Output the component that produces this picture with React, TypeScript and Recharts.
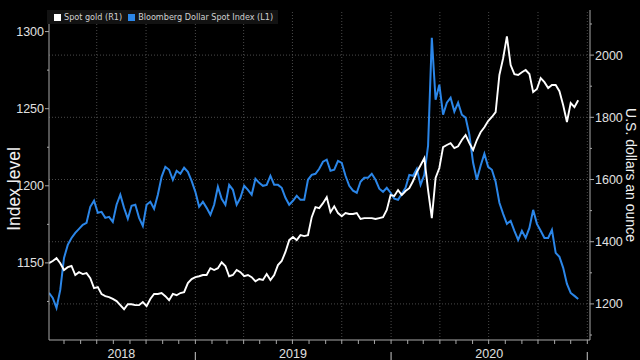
import { LineChart, Line, XAxis, YAxis, ReferenceLine, Legend } from "recharts";

const BLUE = "#2b86e8";
const WEEK = 7 * 24 * 3600 * 1000;
const START = Date.UTC(2018, 3, 3);
const END = Date.UTC(2021, 0, 6);

// weekly closes, Apr 2018 -> Dec 2020
const dollarIndex = [
  1130.5, 1127.3, 1120.8, 1132.5, 1153.2, 1161.7, 1166.2, 1169.5, 1172.1, 1174.7,
  1176.0, 1186.4, 1190.3, 1182.5, 1183.1, 1179.2, 1179.9, 1176.6, 1187.7, 1194.2,
  1185.7, 1178.6, 1187.0, 1187.7, 1179.2, 1174.0, 1187.7, 1189.6, 1185.1, 1194.2,
  1205.8, 1212.3, 1210.4, 1203.9, 1209.7, 1207.8, 1211.7, 1209.1, 1203.2, 1196.1,
  1186.4, 1189.6, 1185.7, 1181.2, 1187.7, 1199.4, 1191.6, 1187.7, 1200.6, 1197.4,
  1187.7, 1192.2, 1200.0, 1197.4, 1194.2, 1204.5, 1201.9, 1200.0, 1200.6, 1206.5,
  1200.6, 1200.6, 1198.7, 1192.2, 1187.7, 1190.3, 1193.5, 1190.9, 1190.9, 1203.9,
  1207.1, 1207.8, 1211.0, 1215.6, 1216.9, 1209.7, 1210.4, 1216.2, 1214.9, 1206.5,
  1200.0, 1196.8, 1195.5, 1202.6, 1205.2, 1205.2, 1207.8, 1203.9, 1198.1, 1196.1,
  1198.7, 1195.5, 1191.6, 1190.9, 1194.8, 1198.7, 1207.1, 1206.5, 1211.0, 1200.6,
  1207.1, 1226.0, 1296.0, 1255.8, 1265.6, 1246.1, 1253.9, 1257.1, 1248.1, 1253.9,
  1246.1, 1244.2, 1233.1, 1214.9, 1203.9, 1213.0, 1220.8, 1212.3, 1210.4, 1202.6,
  1189.0, 1181.8, 1175.3, 1177.3, 1170.8, 1164.9, 1170.8, 1166.2, 1172.7, 1184.4,
  1175.3, 1170.8, 1166.2, 1166.2, 1171.4, 1156.5, 1153.9, 1146.8, 1136.4, 1130.5,
  1128.6, 1126.6,
];

const spotGold = [
  1331, 1338, 1347, 1331, 1309, 1318, 1322, 1293, 1302, 1296,
  1299, 1283, 1251, 1254, 1232, 1225, 1222, 1216, 1209, 1196,
  1183, 1199, 1199, 1196, 1196, 1206, 1193, 1216, 1232, 1232,
  1235, 1225, 1212, 1232, 1228, 1235, 1238, 1267, 1280, 1286,
  1289, 1293, 1293, 1315, 1309, 1315, 1334, 1322, 1289, 1293,
  1309, 1302, 1289, 1293, 1286, 1273, 1280, 1277, 1296, 1277,
  1293, 1325, 1338, 1367, 1405, 1415, 1405, 1421, 1418, 1421,
  1479, 1511, 1508, 1524, 1543, 1495, 1514, 1492, 1482, 1492,
  1489, 1489, 1492, 1473, 1476, 1476, 1476, 1473, 1476, 1479,
  1502, 1550, 1547, 1566, 1550, 1563, 1572, 1595, 1624, 1646,
  1669, 1566, 1476, 1605, 1637, 1704, 1711, 1717, 1701, 1707,
  1727, 1743, 1717, 1695, 1727, 1752, 1768, 1788, 1801, 1817,
  1936, 1990, 2060, 1968, 1939, 1936, 1945, 1952, 1939, 1881,
  1891, 1926, 1913, 1894, 1904, 1904, 1884, 1839, 1785, 1846,
  1833, 1855,
];

const monthTicks: number[] = [];
for (let y = 2018, m = 4; y * 12 + m <= 2021 * 12; m++) {
  if (m > 11) { m = 0; y++; }
  monthTicks.push(Date.UTC(y, m, 1));
}
const quarterLines = [
  Date.UTC(2018, 6, 1), Date.UTC(2018, 9, 1), Date.UTC(2019, 0, 1), Date.UTC(2019, 3, 1),
  Date.UTC(2019, 6, 1), Date.UTC(2019, 9, 1), Date.UTC(2020, 0, 1), Date.UTC(2020, 3, 1),
  Date.UTC(2020, 6, 1), Date.UTC(2020, 9, 1), Date.UTC(2021, 0, 1),
];
const yearLabels = ["2018", "2019", "2020"];
const yearLabelAt = [Date.UTC(2018, 7, 16), Date.UTC(2019, 6, 2), Date.UTC(2020, 6, 2)];

const leftTicks = [1125, 1150, 1175, 1200, 1225, 1250, 1275, 1300];
const leftMajor = [1150, 1200, 1250, 1300];
const rightTicks = [1100, 1200, 1300, 1400, 1500, 1600, 1700, 1800, 1900, 2000, 2100];
const rightMajor = [1200, 1400, 1600, 1800, 2000];

const legendItems = [
  { label: "Spot gold (R1)", color: "#ffffff" },
  { label: "Bloomberg Dollar Spot Index (L1)", color: BLUE },
];

const rows = dollarIndex.map((v, i) => ({
  date: START + i * WEEK,
  dollar: v,
  gold: spotGold[i],
}));

const FONT = "'Liberation Sans', Arial, sans-serif";
const AXIS = "#a8a8a8";

const LeftTick = (p: any) => {
  const major = leftMajor.includes(p.payload.value);
  return (
    <g>
      <line x1={p.x - (major ? 4 : 2)} x2={p.x} y1={p.y} y2={p.y} stroke={AXIS} />
      {major && (
        <text x={p.x - 5} y={p.y + 4.5} textAnchor="end" fill="#e0e0e0" fontSize={12.5} fontFamily={FONT}>
          {p.payload.value}
        </text>
      )}
    </g>
  );
};

const RightTick = (p: any) => {
  const major = rightMajor.includes(p.payload.value);
  return (
    <g>
      <line x1={p.x} x2={p.x + (major ? 4 : 2)} y1={p.y} y2={p.y} stroke={AXIS} />
      {major && (
        <text x={p.x + 5} y={p.y + 4.5} textAnchor="start" fill="#e0e0e0" fontSize={12.5} fontFamily={FONT}>
          {p.payload.value}
        </text>
      )}
    </g>
  );
};

const MonthTick = (p: any) => {
  const d = new Date(p.payload.value);
  if (d.getUTCMonth() !== 0) return <g />;
  return <line x1={p.x} x2={p.x} y1={p.y + 8} y2={p.y + 40} stroke={AXIS} strokeWidth={1.2} />;
};

const YearTick = (p: any) => {
  const idx = yearLabelAt.indexOf(p.payload.value);
  return (
    <text x={p.x} y={p.y + 12} textAnchor="middle" fill="#e0e0e0" fontSize={12.5} fontFamily={FONT}>
      {yearLabels[idx]}
    </text>
  );
};

const LegendBox = () => (
  <div
    style={{
      display: "flex",
      alignItems: "center",
      gap: 6,
      background: "#121212",
      padding: "2px 5px 2px 7px",
      fontFamily: "'Liberation Sans Narrow', 'DejaVu Sans Condensed', sans-serif",
      fontSize: 9,
      color: "#d0d0d0",
      whiteSpace: "nowrap",
    }}
  >
    {legendItems.map((it) => (
      <span key={it.label} style={{ display: "flex", alignItems: "center", gap: 3 }}>
        <span style={{ width: 7, height: 7, background: it.color, display: "inline-block" }} />
        {it.label}
      </span>
    ))}
  </div>
);

export default function App() {
  return (
    <div
      style={{
        position: "absolute",
        left: 0,
        top: 0,
        width: 640,
        height: 360,
        overflow: "hidden",
        background: "#000",
      }}
    >
      <LineChart width={640} height={380} data={rows} margin={{ top: 10, right: 0, bottom: 0, left: 0 }}>
        <XAxis
          dataKey="date"
          type="number"
          scale="time"
          domain={[START, END]}
          allowDataOverflow
          ticks={monthTicks}
          interval={0}
          tick={MonthTick}
          tickSize={4}
          tickMargin={0}
          tickLine={{ stroke: AXIS }}
          axisLine={{ stroke: AXIS }}
          height={6}
        />
        <XAxis
          xAxisId="yr"
          dataKey="date"
          type="number"
          scale="time"
          domain={[START, END]}
          allowDataOverflow
          ticks={yearLabelAt}
          interval={0}
          tick={YearTick}
          tickSize={0}
          tickMargin={0}
          tickLine={false}
          axisLine={false}
          height={34}
        />
        <YAxis
          yAxisId="left"
          orientation="left"
          type="number"
          domain={[1100, 1314]}
          allowDataOverflow
          ticks={leftTicks}
          interval={0}
          tick={LeftTick}
          tickSize={0}
          tickMargin={0}
          tickLine={false}
          axisLine={{ stroke: AXIS }}
          width={49}
          label={(p: any) => (
            <text
              x={14}
              y={p.viewBox.y + p.viewBox.height / 2 + 14}
              transform={`rotate(-90, 14, ${p.viewBox.y + p.viewBox.height / 2 + 14})`}
              textAnchor="middle"
              dominantBaseline="central"
              fill="#f0f0f0"
              fontSize={17.5}
              fontFamily={FONT}
            >
              Index level
            </text>
          )}
        />
        <YAxis
          yAxisId="right"
          orientation="right"
          type="number"
          domain={[1084, 2145]}
          allowDataOverflow
          ticks={rightTicks}
          interval={0}
          tick={RightTick}
          tickSize={0}
          tickMargin={0}
          tickLine={false}
          axisLine={{ stroke: AXIS }}
          width={50}
          label={(p: any) => (
            <text
              x={631}
              y={p.viewBox.y + p.viewBox.height / 2}
              transform={`rotate(90, 631, ${p.viewBox.y + p.viewBox.height / 2})`}
              textAnchor="middle"
              dominantBaseline="central"
              fill="#f0f0f0"
              fontSize={14}
              fontFamily={FONT}
            >
              U.S. dollars an ounce
            </text>
          )}
        />
        {quarterLines.map((q) => (
          <ReferenceLine key={q} x={q} yAxisId="right" stroke="#4a4a4a" strokeDasharray="1 2" />
        ))}
        {rightMajor.map((v) => (
          <ReferenceLine key={v} y={v} yAxisId="right" stroke="#4a4a4a" strokeDasharray="1 2" />
        ))}
        <Legend
          layout="vertical"
          align="center"
          verticalAlign="middle"
          content={LegendBox}
          wrapperStyle={{ position: "absolute", top: 10, left: 47, width: "auto", height: "auto" }}
        />
        <Line
          yAxisId="left"
          dataKey="dollar"
          stroke={BLUE}
          strokeWidth={2}
          dot={false}
          isAnimationActive={false}
        />
        <Line
          yAxisId="right"
          dataKey="gold"
          stroke="#ffffff"
          strokeWidth={1.9}
          dot={false}
          isAnimationActive={false}
        />
      </LineChart>
    </div>
  );
}
